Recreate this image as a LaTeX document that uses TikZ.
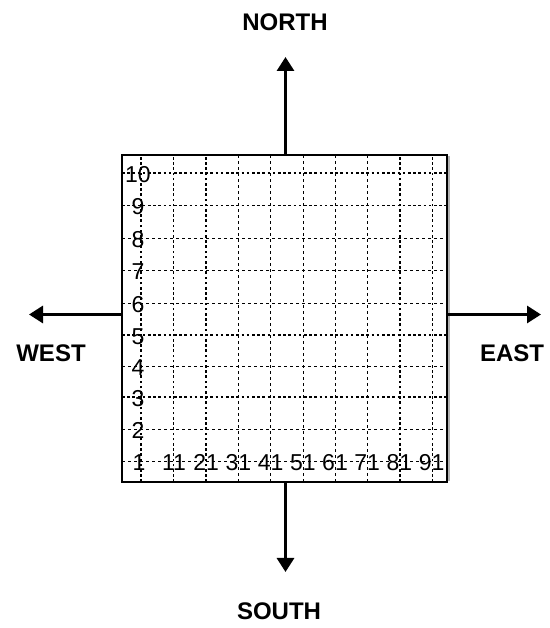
\documentclass[tikz,border=0pt]{standalone}
\usepackage{fontspec}
\setmainfont{Liberation Sans}
\usetikzlibrary{arrows.meta}
\tikzset{
  boxstyle/.style={draw=black, line width=2pt, inner sep=0pt, fill=none},
  gridthick/.style={line width=1.6pt, dash pattern=on 2.6pt off 2.6pt},
  gridthin/.style={line width=0.8pt, dash pattern=on 3pt off 3pt},
  dirarrow/.style={line width=3pt, -{Triangle[width=17pt,length=14pt]}},
  numlbl/.style={inner sep=0pt, anchor=base, font=\fontsize{23}{27}\selectfont},
  dirlbl/.style={inner sep=0pt, font=\fontsize{24}{28}\selectfont\bfseries},
}
\begin{document}
\begin{tikzpicture}[x=1pt,y=1pt]
\useasboundingbox (0,0) rectangle (549,628);
% shadow on the right side
\draw[gray!60, line width=1.5pt] (448.8,147) -- (448.8,472);
% vertical grid lines
\foreach \x/\s in {141/gridthick,173.3/gridthick,205.7/gridthick,238.3/gridthin,270.7/gridthin,303.3/gridthin,335.5/gridthin,367.5/gridthin,400/gridthick,432.5/gridthick}{
  \draw[\s] (\x,146) -- (\x,473);
}
% horizontal grid lines (px y -> 628-y)
\foreach \y/\s in {173.3/gridthick,205.7/gridthick,238.3/gridthin,270.3/gridthin,303.3/gridthin,335/gridthick,366.7/gridthin,397/gridthick,429/gridthin,461.7/gridthin}{
  \draw[\s] (122,628-\y) -- (447,628-\y);
}
\node[boxstyle, minimum width=325pt, minimum height=327pt] (box) at (284.5,309.5) {};
% y labels (baseline = centre + 8.2 px)
\foreach \n/\y in {10/174,9/206.5,8/239,7/271,6/304,5/336,4/367.5,3/398.5,2/430}{
  \node[numlbl] (y\n) at (138,628-\y-8.2) {\n};
}
\node[numlbl] (y1) at (139,628-462.5-8.2) {1};
% x labels
\foreach \n/\x in {11/174,21/206.2,31/238.4,41/270.6,51/302.8,61/335,71/367.2,81/399.4,91/431.6}{
  \node[numlbl] (x\n) at (\x,628-462.5-8.2) {\n};
}
% arrows
\coordinate (ntip) at (285.5,628-57);
\coordinate (stip) at (285.5,628-572);
\coordinate (wtip) at (29,628-314.5);
\coordinate (etip) at (541,628-314.5);
\draw[dirarrow] (box.north -| ntip) -- (ntip);
\draw[dirarrow] (box.south -| stip) -- (stip);
\draw[dirarrow] (box.west |- wtip) -- (wtip);
\draw[dirarrow] (box.east |- etip) -- (etip);
% direction labels
\node[dirlbl] (north) at (285,628-22.5) {NORTH};
\node[dirlbl] (south) at (279,628-611) {SOUTH};
\node[dirlbl] (west) at (51,628-353) {WEST};
\node[dirlbl] (east) at (512,628-353) {EAST};
\end{tikzpicture}
\end{document}
